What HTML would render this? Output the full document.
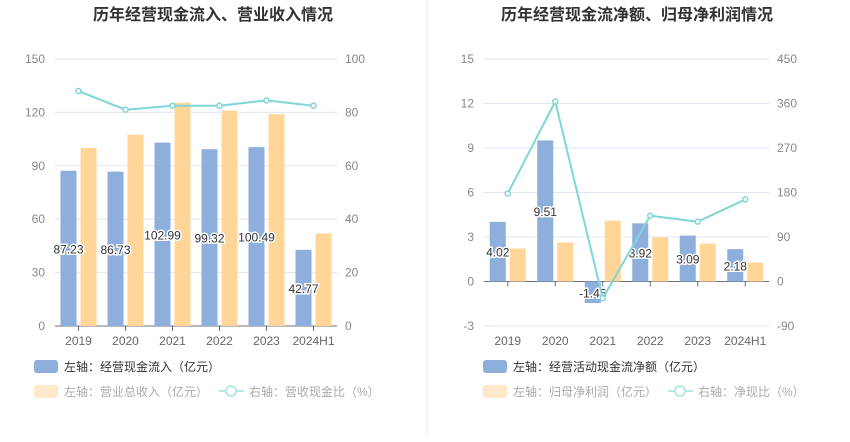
<!DOCTYPE html>
<html><head><meta charset="utf-8"><style>
body{margin:0;background:#fff;font-family:"Liberation Sans","Noto Sans CJK SC",sans-serif;}
svg text{font-family:"Liberation Sans","Noto Sans CJK SC",sans-serif;}
</style></head><body>
<svg id="c" width="850" height="437" viewBox="0 0 850 437">
<line x1="427" y1="0" x2="427" y2="437" stroke="#eee"/>
<text x="213" y="20" text-anchor="middle" font-size="16" font-weight="bold" fill="#333">历年经营现金流入、营业收入情况</text>
<text x="637" y="20" text-anchor="middle" font-size="16" font-weight="bold" fill="#333">历年经营现金流净额、归母净利润情况</text>
<g id="L"></g><g id="R"></g>
<g>
<rect x="34" y="360" width="24" height="13" rx="3" fill="#8eaedb"/>
<text x="64" y="371" font-size="12" fill="#333">左轴：经营现金流入（亿元）</text>
<rect x="34" y="385" width="24" height="13" rx="3" fill="#fde9c9"/>
<text x="64" y="396" font-size="12" fill="#aaa">左轴：营业总收入（亿元）</text>
<line x1="219" y1="391" x2="244" y2="391" stroke="#b7e6e6" stroke-width="2"/>
<circle cx="231" cy="391" r="5" fill="#fff" stroke="#b7e6e6" stroke-width="2"/>
<text x="249" y="396" font-size="12" fill="#aaa">右轴：营收现金比（%）</text>
</g>
<g>
<rect x="483" y="360" width="24" height="13" rx="3" fill="#8eaedb"/>
<text x="513" y="371" font-size="12" fill="#333">左轴：经营活动现金流净额（亿元）</text>
<rect x="483" y="385" width="24" height="13" rx="3" fill="#fde9c9"/>
<text x="513" y="396" font-size="12" fill="#aaa">左轴：归母净利润（亿元）</text>
<line x1="668" y1="391" x2="693" y2="391" stroke="#b7e6e6" stroke-width="2"/>
<circle cx="680" cy="391" r="5" fill="#fff" stroke="#b7e6e6" stroke-width="2"/>
<text x="698" y="396" font-size="12" fill="#aaa">右轴：净现比（%）</text>
</g>
</svg>
<script>
const categories=["2019","2020","2021","2022","2023","2024H1"];
const inflow=[87.23,86.73,102.99,99.32,100.49,42.77];
const revenue=[100,107.5,125.5,121,119,52];
const cashRatio=[88,81,82.5,82.5,84.5,82.5];
const leftTicks=[0,30,60,90,120,150];
const leftRightTicks=[0,20,40,60,80,100];
const netCash=[4.02,9.51,-1.45,3.92,3.09,2.18];
const netProfit=[2.22,2.63,4.1,2.97,2.56,1.28];
const netRatio=[178,364,-34,133,121,166];
const rTicks=[-3,0,3,6,9,12,15];
const rRightTicks=[-90,0,90,180,270,360,450];
const NS="http://www.w3.org/2000/svg";
function mk(p,t,a){const e=document.createElementNS(NS,t);for(const k in a)e.setAttribute(k,a[k]);p.appendChild(e);return e;}
function draw(g,o){
 const top=59,bot=326,x0=o.x0,x1=o.x1;
 const y=v=>bot-(v-o.lmin)/(o.lmax-o.lmin)*(bot-top);
 const yr=v=>bot-(v-o.rmin)/(o.rmax-o.rmin)*(bot-top);
 const bw=(x1-x0)/categories.length;
 const cx=i=>x0+bw*(i+0.5);
 o.lt.forEach((t,i)=>{
  const l=mk(g,'line',{x1:x0,x2:x1,y1:y(t),y2:y(t),stroke:'#e0e6f1'});
  
  const a=mk(g,'text',{x:x0-10,y:y(t)+4,'text-anchor':'end','font-size':12,fill:'#888'});a.textContent=t;
  
  const b=mk(g,'text',{x:x1+8,y:yr(o.rt[i])+4,'font-size':12,fill:'#888'});b.textContent=o.rt[i];
  
 });
 const base=y(Math.max(0,o.lmin));
 const ax=mk(g,'line',{x1:x0,x2:x1,y1:base,y2:base,stroke:'#6e7079'});
 
 categories.forEach((c,i)=>{
  mk(g,'line',{x1:cx(i),x2:cx(i),y1:base,y2:base+5,stroke:'#6e7079'});
  const t=mk(g,'text',{x:cx(i),y:345,'text-anchor':'middle','font-size':12,fill:'#666'});t.textContent=c;
  
  const v=o.a[i],v2=o.b[i];
  const r=mk(g,'rect',{x:cx(i)-18,y:Math.min(y(v),y(0)),width:16,height:Math.abs(y(v)-y(0)),fill:'#8eaedb'});
  
  const r2=mk(g,'rect',{x:cx(i)+2,y:Math.min(y(v2),y(0)),width:16,height:Math.abs(y(v2)-y(0)),fill:'#ffd698'});
  
 });
 categories.forEach((c,i)=>{
  const v=o.a[i];
  const lb=mk(g,'text',{x:cx(i)-10,y:(y(v)+y(0))/2+5,'text-anchor':'middle','font-size':12,fill:'#333',stroke:'#fff','stroke-width':3,'paint-order':'stroke'});
  lb.textContent=v.toFixed(2);
  
 });
 const pts=o.c.map((v,i)=>cx(i)+','+yr(v)).join(' ');
 const pl=mk(g,'polyline',{points:pts,fill:'none',stroke:'#7fd6d6','stroke-width':2});
 
 o.c.forEach((v,i)=>{const p=mk(g,'circle',{cx:cx(i),cy:yr(v),r:2.5,fill:'#fff',stroke:'#7fd6d6','stroke-width':1.5});
  });
}
draw(document.getElementById('L'),{x0:55,x1:337,lmin:0,lmax:150,rmin:0,rmax:100,lt:leftTicks,rt:leftRightTicks,a:inflow,b:revenue,c:cashRatio});
draw(document.getElementById('R'),{x0:484,x1:769,lmin:-3,lmax:15,rmin:-90,rmax:450,lt:rTicks,rt:rRightTicks,a:netCash,b:netProfit,c:netRatio});
</script>
</body></html>
